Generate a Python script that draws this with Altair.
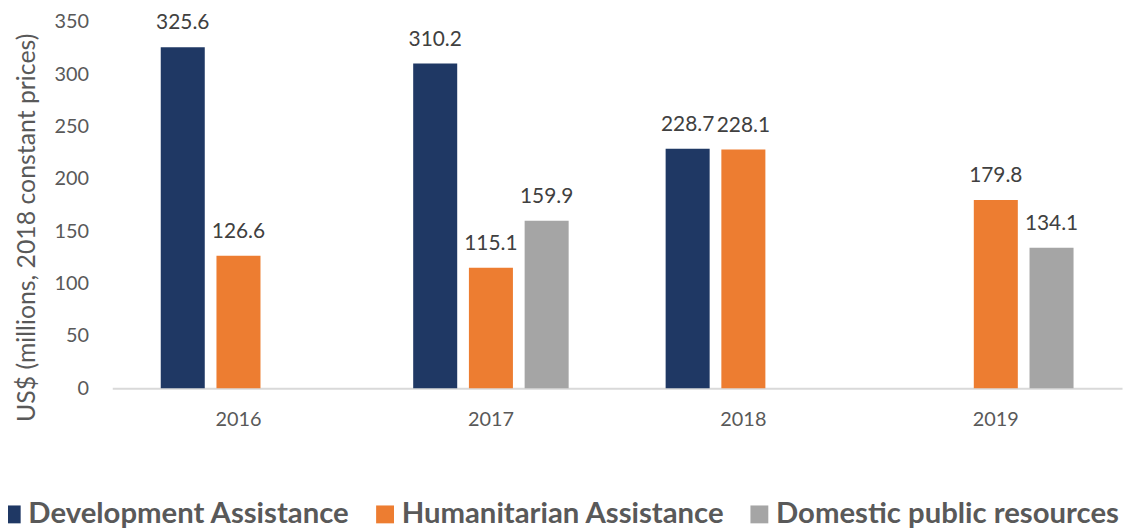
import altair as alt
import pandas as pd

years = ["2016", "2017", "2018", "2019"]
series = ["Development Assistance", "Humanitarian Assistance", "Domestic public resources"]
dev = [325.6, 310.2, 228.7, None]
hum = [126.6, 115.1, 228.1, 179.8]
dom = [None, 159.9, None, 134.1]
colors = ["#1f3864", "#ed7d31", "#a5a5a5"]

rows = []
for s, vals in zip(series, [dev, hum, dom]):
    for y, v in zip(years, vals):
        if v is not None:
            rows.append({"year": y, "series": s, "value": v, "label": f"{v:.1f}"})
df = pd.DataFrame(rows)

FONT = "Lato"

base = alt.Chart(df).encode(
    x=alt.X("year:N", sort=years, title=None,
            scale=alt.Scale(paddingInner=0.34, paddingOuter=0.17),
            axis=alt.Axis(labelAngle=0, labelFontSize=20, labelColor="#595959", labelFont=FONT,
                          ticks=False, domainColor="#d9d9d9", domainWidth=2, labelPadding=22)),
    xOffset=alt.XOffset("series:N", sort=series,
                        scale=alt.Scale(domain=series, paddingInner=0.21, paddingOuter=0.1)),
)

bars = base.mark_bar().encode(
    y=alt.Y("value:Q", scale=alt.Scale(domain=[0, 350]),
            title="US$ (millions, 2018 constant prices)",
            axis=alt.Axis(values=list(range(0, 351, 50)), grid=False, domain=False, ticks=False,
                          labelFontSize=20, labelColor="#595959", labelFont=FONT, labelPadding=24,
                          titleFontSize=25, titleFont=FONT, titleColor="#595959",
                          titleFontWeight="normal", titleX=-86, titleY=207,
                          titleAngle=270, titleAlign="center", titleBaseline="middle")),
    color=alt.Color("series:N", sort=series,
                    scale=alt.Scale(domain=series, range=colors),
                    legend=alt.Legend(title=None, orient="none", direction="horizontal",
                                      legendX=-116, legendY=481,
                                      symbolType="square", symbolSize=324, symbolStrokeWidth=0,
                                      symbolOpacity=1,
                                      labelFontSize=29.5, labelFontWeight="bold", labelFont=FONT,
                                      labelColor="#595959", columnPadding=20, labelOffset=2,
                                      labelLimit=0)),
)

text = base.mark_text(baseline="alphabetic", dy=-18, fontSize=21, font=FONT, color="#404040").encode(
    y="value:Q",
    text="label:N",
)

chart = (bars + text).properties(
    width=1017, height=369,
    background="white",
    autosize=alt.AutoSizeParams(type="none"),
    padding={"left": 105, "top": 12, "right": 5, "bottom": 150},
).configure_view(strokeWidth=0)

chart.save("out.html", embed_options={"renderer": "svg", "actions": False})
